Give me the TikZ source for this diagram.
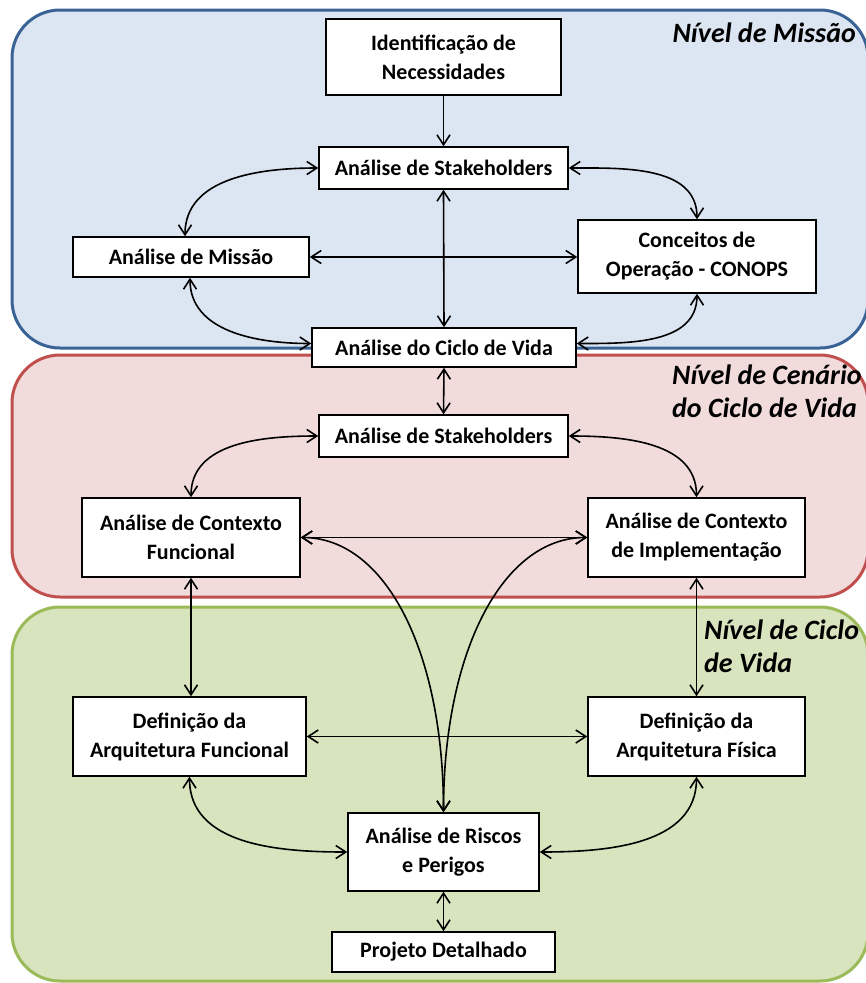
\documentclass[tikz,border=0pt]{standalone}
\usepackage{fontspec}
\setmainfont{Carlito}
\usetikzlibrary{arrows.meta}
\definecolor{bluefill}{HTML}{DCE6F2}
\definecolor{blueline}{HTML}{3A6395}
\definecolor{redfill}{HTML}{F2DCDB}
\definecolor{redline}{HTML}{C0504D}
\definecolor{greenfill}{HTML}{D7E4BD}
\definecolor{greenline}{HTML}{9BBB59}
\tikzset{
  region/.style={line width=3pt, rounded corners=48pt},
  box/.style={draw=black, fill=white, line width=1.5pt, inner sep=0pt, align=center,
    font=\bfseries\fontsize{22}{29}\selectfont},
  lvl/.style={font=\bfseries\itshape\fontsize{28}{33}\selectfont, inner sep=0pt, align=left},
  link/.style={line width=1.6pt, {Straight Barb[length=10pt,width=13pt]}-{Straight Barb[length=10pt,width=13pt]}},
  onearrow/.style={line width=1.6pt, -{Straight Barb[length=10pt,width=13pt]}}
}
\begin{document}
\begin{tikzpicture}[x=1pt,y=1pt]
\useasboundingbox (0,0) rectangle (866,-983);
% regions
\draw[region, draw=blueline, fill=bluefill] (12,-10) rectangle (868,-348);
\draw[region, draw=redline, fill=redfill] (12,-355) rectangle (868,-597);
\draw[region, draw=greenline, fill=greenfill] (12,-607) rectangle (868,-981);
% level labels
\node[lvl, anchor=east] (l1) at (856,-33) {Nível de Missão};
\node[lvl, anchor=west] (l2) at (672,-391) {Nível de Cenário\\do Ciclo de Vida};
\node[lvl, anchor=west] (l3) at (704,-646) {Nível de Ciclo\\de Vida};
% nodes
\node[box, minimum width=235pt, minimum height=76pt] (idn) at (443.5,-57) {Identificação de\\Necessidades};
\node[box, minimum width=249pt, minimum height=42pt] (sh1) at (443.5,-168) {Análise de Stakeholders};
\node[box, minimum width=236pt, minimum height=40pt] (mis) at (191,-257) {Análise de Missão};
\node[box, minimum width=238pt, minimum height=73pt] (con) at (697,-256.5) {Conceitos de\\Operação - CONOPS};
\node[box, minimum width=264pt, minimum height=39pt] (cic) at (444,-347.5) {Análise do Ciclo de Vida};
\node[box, minimum width=249pt, minimum height=42pt] (sh2) at (443.5,-436) {Análise de Stakeholders};
\node[box, minimum width=218pt, minimum height=79pt] (cf) at (191,-537.5) {Análise de Contexto\\Funcional};
\node[box, minimum width=217pt, minimum height=79pt] (ci) at (696.5,-537.5) {Análise de Contexto\\de Implementação};
\node[box, minimum width=233pt, minimum height=79pt] (daf) at (189.5,-736.5) {Definição da\\Arquitetura Funcional};
\node[box, minimum width=217pt, minimum height=79pt] (dfis) at (696.5,-736.5) {Definição da\\Arquitetura Física};
\node[box, minimum width=191pt, minimum height=78pt] (ris) at (443.5,-852) {Análise de Riscos\\e Perigos};
\node[box, minimum width=223pt, minimum height=40pt] (pro) at (443.5,-952) {Projeto Detalhado};
% connectors - mission level
\draw[onearrow] (idn.south) -- (sh1.north);
\draw[link] (sh1.south) -- (cic.north);
\draw[link] (mis.east) -- (mis.east -| con.west);
\draw[link] (sh1.west) to[out=180,in=90] ([xshift=-6pt]mis.north);
\draw[link] (sh1.east) to[out=0,in=90] (con.north);
\draw[link] ([xshift=-1pt]mis.south) to[out=-90,in=180] ([yshift=4pt]cic.west);
\draw[link] (con.south) to[out=-90,in=0] ([yshift=4pt]cic.east);
% scenario level
\draw[link] (cic.south) -- (sh2.north);
\draw[link] (sh2.west) to[out=180,in=90] (cf.north);
\draw[link] (sh2.east) to[out=0,in=90] (ci.north);
\draw[link] (cf.east) -- (ci.west);
\draw[link] (cf.south) -- (cf.south |- daf.north);
\draw[link] (ci.south) -- (dfis.north);
\draw[link] (cf.east) .. controls +(0:85) and +(90:160) .. (ris.north);
\draw[link] (ci.west) .. controls +(180:85) and +(90:160) .. (ris.north);
% life-cycle level
\draw[link] (daf.east) -- (daf.east -| dfis.west);
\draw[link] (daf.south) to[out=-90,in=180] (ris.west);
\draw[link] (dfis.south) to[out=-90,in=0] (ris.east);
\draw[link] (ris.south) -- (pro.north);
\end{tikzpicture}
\end{document}
